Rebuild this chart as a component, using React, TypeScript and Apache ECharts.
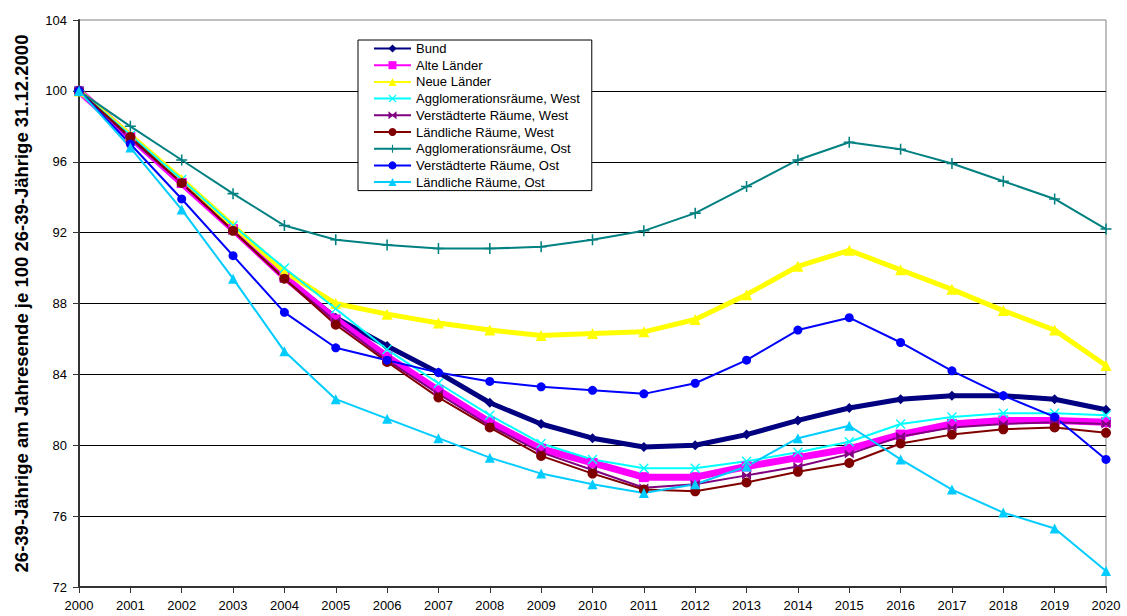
import React, { useEffect, useRef } from "react";
import * as echarts from "echarts";

const years = ["2000","2001","2002","2003","2004","2005","2006","2007","2008","2009","2010","2011","2012","2013","2014","2015","2016","2017","2018","2019","2020"];

const bund = [100, 97.4, 94.8, 92.2, 89.5, 87.2, 85.6, 84.1, 82.4, 81.2, 80.4, 79.9, 80.0, 80.6, 81.4, 82.1, 82.6, 82.8, 82.8, 82.6, 82.0];
const alteLaender = [100, 97.4, 94.8, 92.2, 89.5, 87.1, 85.0, 83.1, 81.3, 79.8, 79.0, 78.2, 78.2, 78.8, 79.3, 79.8, 80.6, 81.2, 81.4, 81.4, 81.3];
const neueLaender = [100, 97.5, 95.0, 92.4, 89.8, 88.0, 87.4, 86.9, 86.5, 86.2, 86.3, 86.4, 87.1, 88.5, 90.1, 91.0, 89.9, 88.8, 87.6, 86.5, 84.5];
const agglWest = [100, 97.5, 95.0, 92.4, 90.0, 87.7, 85.4, 83.5, 81.7, 80.1, 79.2, 78.7, 78.7, 79.1, 79.6, 80.2, 81.2, 81.6, 81.8, 81.8, 81.7];
const verstWest = [100, 97.3, 94.8, 92.1, 89.4, 87.0, 84.8, 82.9, 81.1, 79.6, 78.6, 77.6, 77.8, 78.3, 78.8, 79.5, 80.5, 81.0, 81.2, 81.3, 81.2];
const laendWest = [100, 97.4, 94.8, 92.1, 89.4, 86.8, 84.7, 82.7, 81.0, 79.4, 78.4, 77.5, 77.4, 77.9, 78.5, 79.0, 80.1, 80.6, 80.9, 81.0, 80.7];
const agglOst = [100, 98.0, 96.1, 94.2, 92.4, 91.6, 91.3, 91.1, 91.1, 91.2, 91.6, 92.1, 93.1, 94.6, 96.1, 97.1, 96.7, 95.9, 94.9, 93.9, 92.2];
const verstOst = [100, 97.0, 93.9, 90.7, 87.5, 85.5, 84.8, 84.1, 83.6, 83.3, 83.1, 82.9, 83.5, 84.8, 86.5, 87.2, 85.8, 84.2, 82.8, 81.6, 79.2];
const laendOst = [100, 96.8, 93.3, 89.4, 85.3, 82.6, 81.5, 80.4, 79.3, 78.4, 77.8, 77.3, 77.8, 78.8, 80.4, 81.1, 79.2, 77.5, 76.2, 75.3, 72.9];

const yTicks = [72, 76, 80, 84, 88, 92, 96, 100, 104];

const X_SYM = "path://M0,1L1,0L5,4L9,0L10,1L6,5L10,9L9,10L5,6L1,10L0,9L4,5Z";
const PLUS_SYM = "path://M4.3,0H5.7V4.3H10V5.7H5.7V10H4.3V5.7H0V4.3H4.3Z";
const STAR_SYM = "path://M0,0L5,4L10,0L10,10L5,6L0,10Z";

const FONT = "'Liberation Sans', Arial, sans-serif";

export default function App() {
  const ref = useRef<HTMLDivElement>(null);
  useEffect(() => {
    if (!ref.current) return;
    const chart = echarts.init(ref.current, undefined, { renderer: "svg" });
    const mk = (name: string, data: number[], color: string, width: number, symbol: string, size: number) => ({
      name,
      type: "line",
      data,
      symbol,
      symbolSize: size,
      showSymbol: true,
      lineStyle: { color, width },
      itemStyle: { color, borderWidth: 0 },
      emphasis: { disabled: true },
    });
    chart.setOption({
      animation: false,
      textStyle: { fontFamily: FONT },
      grid: {
        left: 79,
        right: 21,
        top: 20,
        bottom: 29,
        show: true,
        borderColor: "#808080",
        borderWidth: 1,
        backgroundColor: "#fff",
      },
      legend: {
        orient: "vertical",
        left: 358,
        top: 40,
        padding: [2, 12, 2, 15],
        backgroundColor: "#fff",
        borderColor: "#000",
        borderWidth: 1,
        itemWidth: 37,
        itemHeight: 10,
        itemGap: 3.7,
        textStyle: { fontFamily: FONT, fontSize: 13, color: "#000", lineHeight: 13 },
        data: [
          "Bund",
          "Alte Länder",
          "Neue Länder",
          "Agglomerationsräume, West",
          "Verstädterte Räume, West",
          "Ländliche Räume, West",
          "Agglomerationsräume, Ost",
          "Verstädterte Räume, Ost",
          "Ländliche Räume, Ost",
        ],
      },
      xAxis: {
        type: "category",
        data: years,
        boundaryGap: false,
        axisLine: { lineStyle: { color: "#333", width: 2 } },
        axisTick: { show: true, length: 6, lineStyle: { color: "#333" }, alignWithLabel: true },
        axisLabel: { color: "#000", fontSize: 13, margin: 12, fontFamily: FONT, interval: 0 },
        splitLine: { show: false },
      },
      yAxis: {
        type: "value",
        min: 72,
        max: 104,
        interval: 4,
        name: "26-39-Jährige am Jahresende je 100 26-39-Jährige 31.12.2000",
        nameLocation: "middle",
        nameGap: 48,
        nameTextStyle: { fontFamily: FONT, fontSize: 18.5, fontWeight: "bold", color: "#000" },
        axisLine: { show: true, lineStyle: { color: "#333", width: 2 } },
        axisTick: { show: true, length: 6, lineStyle: { color: "#333" } },
        axisLabel: {
          color: "#000",
          fontSize: 13,
          margin: 12,
          fontFamily: FONT,
          formatter: (v: number) => (yTicks.includes(v) ? String(v) : ""),
        },
        splitLine: { show: true, showMinLine: false, showMaxLine: false, lineStyle: { color: "#000", width: 1 } },
      },
      series: [
        mk("Bund", bund, "#000080", 5, "diamond", 10),
        mk("Alte Länder", alteLaender, "#ff00ff", 7, "rect", 10),
        mk("Neue Länder", neueLaender, "#ffff00", 5, "triangle", 11),
        mk("Agglomerationsräume, West", agglWest, "#00ffff", 2, X_SYM, 10),
        mk("Verstädterte Räume, West", verstWest, "#800080", 2, STAR_SYM, 9),
        mk("Ländliche Räume, West", laendWest, "#800000", 2, "circle", 10),
        mk("Agglomerationsräume, Ost", agglOst, "#008080", 2, PLUS_SYM, 11),
        mk("Verstädterte Räume, Ost", verstOst, "#0000ff", 2, "circle", 9),
        mk("Ländliche Räume, Ost", laendOst, "#00ccff", 2, "triangle", 10),
      ],
    });
    return () => chart.dispose();
  }, []);
  return <div ref={ref} style={{ width: 1127, height: 616, position: "absolute", left: 0, top: 0, background: "#fff" }} />;
}
